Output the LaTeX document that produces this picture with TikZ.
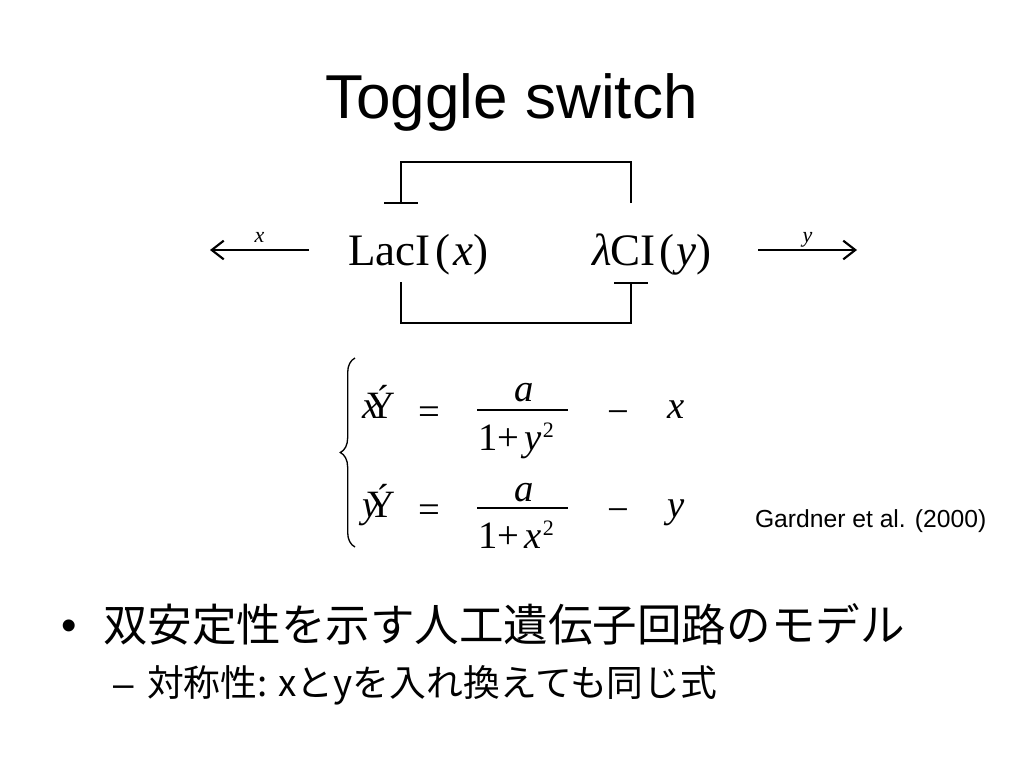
\documentclass[tikz,border=0pt]{standalone}
\usepackage{fontspec}
\setmainfont{Liberation Serif}
\newfontfamily\arialfont{Liberation Sans}
\newfontfamily\jpfont{Noto Sans CJK JP}
\usetikzlibrary{arrows.meta,decorations.pathreplacing}

\newcommand{\sqr}{\raisebox{9.5pt}{\fontsize{16.5}{20}\selectfont 2}}

\begin{document}
\begin{tikzpicture}[x=0.75pt, y=-0.75pt,
  txt/.style={inner sep=0pt, outer sep=0pt},
  gene/.style={txt, anchor=base west, font=\fontsize{33.75}{40}\selectfont},
  eq/.style={txt, anchor=base, font=\fontsize{29}{34}\selectfont},
  repress/.style={-{Bar[width=25pt]}, line width=1.6pt},
  degrade/.style={-{Straight Barb[length=9pt, width=14pt]}, line width=1.6pt},
  rate/.style={txt, midway, anchor=base, yshift=6pt, font=\fontsize{16.5}{20}\selectfont\itshape}]

\fill[white] (0,0) rectangle (1024,768);
\useasboundingbox (0,0) rectangle (1024,768);

% Title
\node (title) [txt, anchor=base, font=\arialfont\fontsize{46.5}{56}\selectfont] at (511.5,118) {Toggle switch};

% Genes
\node (laci) [gene] at (348,265) {LacI\kern3.5pt(\kern2.5pt\textit{x})};
\node (ci) [gene] at (592,265) {\textit{λ}\kern-1pt CI\kern3pt(\kern1.5pt\textit{y})};

% Mutual repression
\draw[repress] ([shift={(39,-62)}]ci.base west) -- ++(0,-41) -| ([shift={(53,-61)}]laci.base west);
\draw[repress] ([shift={(53,17)}]laci.base west) -- ++(0,41) -| ([shift={(39,17)}]ci.base west);

% Degradation
\coordinate (xsink) at (210,250);
\coordinate (ysink) at (857,250);
\draw[degrade] ([shift={(-39,-15)}]laci.base west) -- (xsink) node[rate] {x};
\draw[degrade] ([shift={(166,-15)}]ci.base west) -- (ysink) node[rate] {y};

% Equations
\draw[decorate, decoration={brace, amplitude=11pt}, line width=1pt] (355,547) -- (355,358);

\node (xdot) [eq, anchor=base west] at (362,418) {\makebox[0pt][l]{\textit{x}}\kern4pt Ý};
\node (eqx) [eq] at (429,424) {=};
\node (numx) [eq] at (524,401) {\textit{a}};
\node (denx) [eq, anchor=base west] at (478,450) {1+\kern4pt\textit{y}\kern1pt\sqr};
\draw[line width=1.1pt] ([shift={(-1,-40)}]denx.base west) -- ++(91,0);
\node (minx) [eq] at (618,424) {−};
\node (lossx) [eq] at (676,418) {\textit{x}};

\node (ydot) [eq, anchor=base west] at (362,517) {\makebox[0pt][l]{\textit{y}}\kern4pt Ý};
\node (eqy) [eq] at (429,522) {=};
\node (numy) [eq] at (524,501) {\textit{a}};
\node (deny) [eq, anchor=base west] at (478,548) {1+\kern4pt\textit{x}\kern1pt\sqr};
\draw[line width=1.1pt] ([shift={(-1,-40)}]deny.base west) -- ++(91,0);
\node (miny) [eq] at (618,522) {−};
\node (lossy) [eq] at (676,517) {\textit{y}};

% Reference
\node (ref) [txt, anchor=base west, font=\arialfont\fontsize{18.5}{22}\selectfont] at (755,527) {Gardner et al. (2000)};

% Bullets
\node (bullet) [txt, anchor=base west, font=\arialfont\fontsize{33}{40}\selectfont] at (61,640) {•};
\node (item) [txt, anchor=base west, font=\jpfont\fontsize{33.4}{40}\selectfont] at (103,641) {双安定性を示す人工遺伝子回路のモデル};
\node (dash) [txt, anchor=base west, font=\arialfont\fontsize{27.6}{33}\selectfont] at (113,696) {–};
\node (subitem) [txt, anchor=base west, font=\jpfont\fontsize{27.6}{33}\selectfont] at (147,696) {対称性: xとyを入れ換えても同じ式};

\end{tikzpicture}
\end{document}
